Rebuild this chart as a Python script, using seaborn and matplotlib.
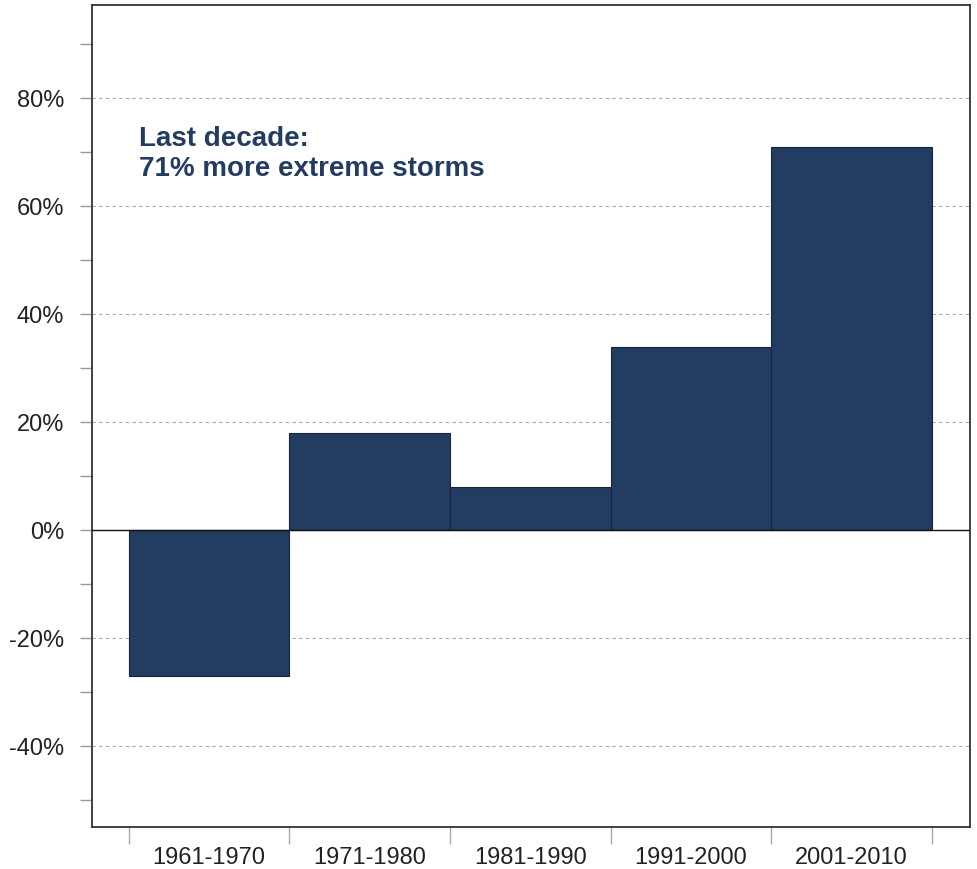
import matplotlib
matplotlib.use("Agg")
import matplotlib.pyplot as plt
import seaborn as sns
import pandas as pd
import numpy as np

decades = ["1961-1970", "1971-1980", "1981-1990", "1991-2000", "2001-2010"]
change_pct = [-27, 18, 8, 34, 71]
y_major = [-40, -20, 0, 20, 40, 60, 80]
y_minor = [-50, -30, -10, 10, 30, 50, 70, 90]
note = "Last decade:\n71% more extreme storms"

bar_color = "#233c62"
text_color = "#233c62"

sns.set_theme(style="white")
plt.rcParams["font.family"] = ["Liberation Sans", "DejaVu Sans"]

df = pd.DataFrame({"decade": decades, "change": change_pct})

fig = plt.figure(figsize=(9.78, 8.69), dpi=100)
ax = fig.add_axes([0.094, 0.048, 0.898, 0.946])

sns.barplot(data=df, x="decade", y="change", color=bar_color, width=1.0,
            edgecolor="#1a2638", linewidth=0.8, saturation=1, ax=ax, zorder=3)

ax.set_xlim(-0.73, 4.74)
ax.set_ylim(-55, 97.2)

# gridlines
for v in y_major:
    if v == 0:
        ax.axhline(0, color="#111111", lw=1.0, zorder=4)
    else:
        ax.axhline(v, color="#aaaaaa", lw=0.8, ls=(0, (3, 3)), zorder=1)

ax.set_yticks(y_major)
ax.set_yticklabels([f"{v}%" for v in y_major])
ax.set_yticks(y_minor, minor=True)
ax.tick_params(axis="y", which="both", direction="out", length=9, width=1,
               color="#999999", left=True, pad=11, labelsize=17, labelcolor="#222222")

# x ticks at bar edges, labels centred under bars
edges = np.arange(len(decades) + 1) - 0.5
ax.set_xticks(edges)
ax.set_xticklabels([])
ax.set_xticks(np.arange(len(decades)), minor=True)
ax.set_xticklabels(decades, minor=True)
ax.tick_params(axis="x", which="major", direction="out", length=12, width=1,
               color="#aaaaaa", bottom=True)
ax.tick_params(axis="x", which="minor", length=0, pad=14, labelsize=17,
               labelcolor="#222222", bottom=True)

ax.set_xlabel("")
ax.set_ylabel("")

for s in ax.spines.values():
    s.set_visible(True)
    s.set_color("#333333")
    s.set_linewidth(1.3)

ax.text(0.054, 0.853, note, transform=ax.transAxes, ha="left", va="top",
        fontsize=20, fontweight="bold", color=text_color, linespacing=1.2)

fig.savefig("out.png", dpi=100)
